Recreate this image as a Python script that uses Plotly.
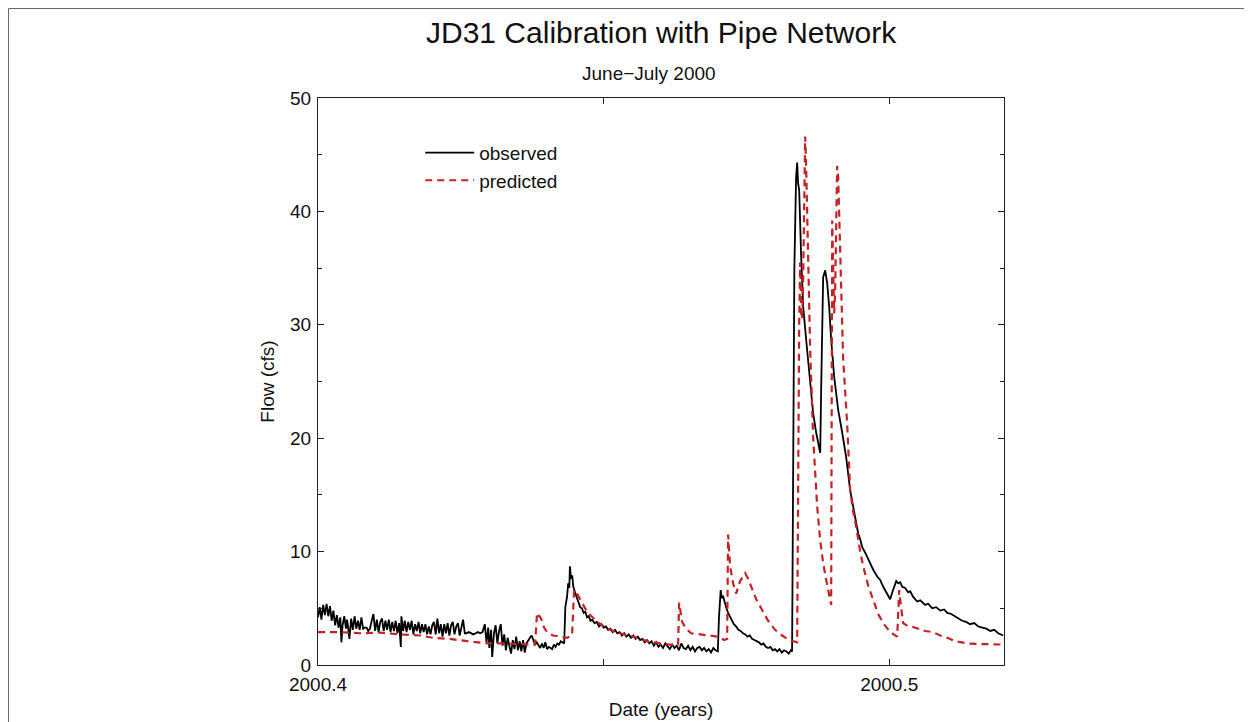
import plotly.graph_objects as go

# ---------------- data ----------------
obs_x = [
    2000.4000, 2000.4003, 2000.4006, 2000.4009, 2000.4012, 2000.4015, 2000.4018, 2000.4021, 2000.4024, 2000.4027,
    2000.4030, 2000.4033, 2000.4036, 2000.4039, 2000.4041, 2000.4043, 2000.4046, 2000.4049, 2000.4051, 2000.4055,
    2000.4058, 2000.4061, 2000.4064, 2000.4067, 2000.4070, 2000.4073, 2000.4076, 2000.4079, 2000.4082, 2000.4085,
    2000.4088, 2000.4091, 2000.4094, 2000.4097, 2000.4100, 2000.4103, 2000.4106, 2000.4109, 2000.4112, 2000.4115,
    2000.4118, 2000.4121, 2000.4124, 2000.4127, 2000.4130, 2000.4133, 2000.4136, 2000.4139, 2000.4142, 2000.4145,
    2000.4146, 2000.4149, 2000.4152, 2000.4155, 2000.4158, 2000.4161, 2000.4164, 2000.4167, 2000.4170, 2000.4173,
    2000.4176, 2000.4179, 2000.4182, 2000.4185, 2000.4188, 2000.4191, 2000.4194, 2000.4197, 2000.4200, 2000.4203,
    2000.4206, 2000.4209, 2000.4212, 2000.4215, 2000.4218, 2000.4221, 2000.4224, 2000.4227, 2000.4230, 2000.4233,
    2000.4236, 2000.4239, 2000.4242, 2000.4245, 2000.4248, 2000.4251, 2000.4254, 2000.4257, 2000.4260, 2000.4264,
    2000.4268, 2000.4272, 2000.4276, 2000.4280, 2000.4284, 2000.4288, 2000.4292, 2000.4295, 2000.4298, 2000.4300,
    2000.4303, 2000.4305, 2000.4308, 2000.4311, 2000.4314, 2000.4317, 2000.4320, 2000.4323, 2000.4326, 2000.4329,
    2000.4332, 2000.4335, 2000.4338, 2000.4341, 2000.4344, 2000.4347, 2000.4350, 2000.4353, 2000.4356, 2000.4359,
    2000.4362, 2000.4365, 2000.4368, 2000.4371, 2000.4374, 2000.4377, 2000.4380, 2000.4383, 2000.4386, 2000.4389,
    2000.4392, 2000.4395, 2000.4398, 2000.4401, 2000.4404, 2000.4407, 2000.4410, 2000.4413, 2000.4416, 2000.4419,
    2000.4422, 2000.4425, 2000.4428, 2000.4431,
    2000.4433, 2000.4436, 2000.4438, 2000.4440, 2000.4441, 2000.4443, 2000.4445, 2000.4447, 2000.4450, 2000.4453,
    2000.4456, 2000.4459, 2000.4462, 2000.4465, 2000.4468, 2000.4471, 2000.4474, 2000.4477, 2000.4480, 2000.4484,
    2000.4488, 2000.4492, 2000.4496, 2000.4500, 2000.4504, 2000.4508, 2000.4512, 2000.4516, 2000.4520, 2000.4524,
    2000.4528, 2000.4532, 2000.4536, 2000.4540, 2000.4544, 2000.4548, 2000.4552, 2000.4556, 2000.4560, 2000.4564,
    2000.4568, 2000.4572, 2000.4576, 2000.4580, 2000.4584, 2000.4588, 2000.4592, 2000.4596, 2000.4600, 2000.4604,
    2000.4608, 2000.4612, 2000.4616, 2000.4620, 2000.4624, 2000.4628, 2000.4632, 2000.4636, 2000.4640, 2000.4644,
    2000.4648, 2000.4652, 2000.4656, 2000.4660, 2000.4664, 2000.4668, 2000.4672, 2000.4676, 2000.4680, 2000.4684,
    2000.4688, 2000.4692, 2000.4696, 2000.4700,
    2000.4702, 2000.4705, 2000.4707, 2000.4709, 2000.4712, 2000.4715, 2000.4718, 2000.4721, 2000.4724, 2000.4728,
    2000.4732, 2000.4736, 2000.4740, 2000.4744, 2000.4748, 2000.4752, 2000.4756, 2000.4760, 2000.4764, 2000.4768,
    2000.4772, 2000.4776, 2000.4780, 2000.4784, 2000.4788, 2000.4792, 2000.4796, 2000.4800, 2000.4804, 2000.4808,
    2000.4812, 2000.4816, 2000.4820, 2000.4824, 2000.4828, 2000.4830,
    2000.48310, 2000.48340, 2000.48370, 2000.48389, 2000.48405, 2000.48424, 2000.48459, 2000.48494, 2000.48546,
    2000.48616, 2000.48669, 2000.48721, 2000.48792, 2000.48809, 2000.48844, 2000.48879, 2000.48914, 2000.48949,
    2000.48984, 2000.49037, 2000.49107, 2000.49177, 2000.49247, 2000.49317,
    2000.49370, 2000.49422, 2000.49457, 2000.49492, 2000.49527, 2000.49580, 2000.49632, 2000.49667, 2000.49720,
    2000.49790, 2000.49842, 2000.49895, 2000.49930, 2000.49965, 2000.50000, 2000.50017, 2000.50053, 2000.50088,
    2000.50123, 2000.50158, 2000.50193, 2000.50228, 2000.50280, 2000.50333, 2000.50368, 2000.50420, 2000.50490,
    2000.50543, 2000.50630, 2000.50683, 2000.50753, 2000.50823, 2000.50893, 2000.50963, 2000.51016, 2000.51086,
    2000.51156, 2000.51208, 2000.51278, 2000.51348, 2000.51418, 2000.51489, 2000.51559, 2000.51629, 2000.51699,
    2000.51769, 2000.51839, 2000.51909, 2000.51996,
]
obs_y = [
    4.2, 5.1, 4.0, 5.3, 4.4, 5.4, 4.3, 5.2, 3.9, 4.8,
    3.5, 4.4, 3.3, 4.2, 2.0, 3.5, 4.3, 3.2, 4.0, 2.3,
    4.1, 3.1, 4.3, 3.2, 3.9, 3.1, 4.2, 3.2, 3.3, 3.3,
    3.0, 3.2, 3.9, 4.5, 3.0, 4.0, 2.9, 3.8, 4.1, 3.0,
    3.9, 3.1, 4.0, 2.9, 3.8, 3.0, 3.9, 2.8, 3.7, 1.6,
    4.3, 3.0, 3.9, 2.9, 3.8, 3.1, 3.9, 2.7, 3.6, 3.0,
    3.8, 2.8, 3.6, 2.9, 3.6, 2.7, 3.4, 2.7, 3.5, 3.8,
    2.7, 4.1, 2.8, 3.6, 2.5, 3.6, 2.8, 3.7, 2.6, 3.5,
    3.8, 2.7, 3.4, 3.7, 2.6, 3.5, 4.0, 2.8, 2.8, 2.9,
    2.8, 2.7, 2.8, 2.9, 2.8, 2.9, 3.6, 2.0, 3.3, 1.5,
    3.1, 0.7, 2.8, 3.5, 1.9, 3.0, 3.6, 1.7, 2.7, 1.3,
    2.4, 1.6, 1.0, 2.2, 1.4, 2.5, 1.3, 2.1, 1.2, 2.2,
    1.1, 1.9, 2.2, 2.4, 2.6, 2.2, 1.8, 2.0, 1.7, 1.5,
    1.9, 1.5, 2.0, 1.4, 1.6, 1.5, 1.4, 1.8, 1.6, 1.9,
    1.8, 2.1, 2.0, 1.9,
    5.1, 6.0, 7.2, 6.8, 8.7, 7.6, 7.9, 6.9, 6.4, 5.9,
    5.6, 5.1, 5.0, 4.6, 4.7, 4.2, 4.3, 3.9, 4.0, 3.7,
    3.8, 3.4, 3.6, 3.3, 3.4, 3.1, 3.2, 2.9, 3.1, 2.8,
    2.9, 2.6, 2.8, 2.5, 2.7, 2.4, 2.6, 2.3, 2.5, 2.2,
    2.3, 2.0, 2.2, 1.9, 2.1, 1.7, 2.0, 1.6, 1.8, 1.5,
    1.9, 1.6, 1.4, 1.8, 1.5, 1.7, 1.3, 1.9, 1.5, 1.4,
    1.7, 1.3, 1.6, 1.2, 1.5, 1.6, 1.3, 1.5, 1.2, 1.4,
    1.1, 1.5, 1.3, 1.2,
    4.2, 6.6, 5.9, 6.1, 5.4, 5.0, 4.6, 4.3, 4.0, 3.6,
    3.4, 3.1, 3.0, 2.8, 2.7, 2.5, 2.6, 2.3, 2.2, 2.1,
    2.0, 1.8, 1.9, 1.6, 1.5, 1.6, 1.3, 1.4, 1.2, 1.4,
    1.1, 1.3, 1.2, 1.0, 1.3, 1.2,
    12.0, 35.0, 43.0, 44.3, 42.5, 41.9, 36.0, 31.6, 28.7,
    24.9, 22.2, 20.5, 18.7, 24.3, 34.2, 34.8, 33.7, 31.6,
    28.7, 25.4, 22.5, 20.5, 18.3, 15.4,
    14.0, 12.4, 11.6, 11.1, 10.4, 9.9, 9.3, 9.0, 8.4,
    7.8, 7.5, 6.9, 6.6, 6.2, 5.9, 5.8, 6.4, 7.0,
    7.4, 7.2, 7.3, 6.9, 6.8, 6.4, 6.5, 6.0, 5.6,
    5.7, 5.3, 5.4, 5.0, 5.1, 4.8, 4.9, 4.6, 4.5,
    4.3, 4.1, 3.9, 3.8, 3.6, 3.7, 3.4, 3.3, 3.2,
    3.0, 3.1, 2.8, 2.6,
]

pred_x = [
    2000.40000, 2000.40385, 2000.40736, 2000.41086, 2000.41436, 2000.41786, 2000.42014, 2000.42312, 2000.42609,
    2000.42960, 2000.43187, 2000.43538, 2000.43800, 2000.43835, 2000.43870, 2000.43905, 2000.43958, 2000.44010,
    2000.44116, 2000.44238, 2000.44361, 2000.44448, 2000.44483, 2000.44536, 2000.44588, 2000.44676, 2000.44764,
    2000.44939, 2000.45114, 2000.45289, 2000.45517, 2000.45762, 2000.45989, 2000.46235, 2000.46305, 2000.46322,
    2000.46375, 2000.46445, 2000.46532, 2000.46690, 2000.46830, 2000.47005, 2000.47110, 2000.47163, 2000.47180,
    2000.47215, 2000.47268, 2000.47320, 2000.47390, 2000.47478, 2000.47531, 2000.47583, 2000.47671, 2000.47776,
    2000.47881, 2000.48003, 2000.48126, 2000.48249, 2000.48354, 2000.48389, 2000.48424, 2000.48441, 2000.48459,
    2000.48476, 2000.48494, 2000.48529, 2000.48546, 2000.48581, 2000.48616, 2000.48669, 2000.48739, 2000.48792,
    2000.48844, 2000.48897, 2000.48949, 2000.48984, 2000.49002, 2000.49019, 2000.49037, 2000.49054, 2000.49089,
    2000.49107, 2000.49142, 2000.49194, 2000.49264, 2000.49317, 2000.49370, 2000.49422, 2000.49492, 2000.49545,
    2000.49632, 2000.49720, 2000.49807, 2000.49895, 2000.50017, 2000.50140, 2000.50175, 2000.50210, 2000.50245,
    2000.50333, 2000.50420, 2000.50630, 2000.50771, 2000.50893, 2000.51016, 2000.51156, 2000.51366, 2000.51594,
    2000.51996,
]
pred_y = [
    2.9, 2.9, 2.8, 2.85, 2.7, 2.6, 2.4, 2.3, 2.1,
    1.9, 1.9, 1.85, 1.8, 4.6, 4.3, 4.1, 3.3, 2.9,
    2.6, 2.5, 2.4, 2.6, 6.6, 6.3, 5.8, 5.0, 4.4,
    3.6, 3.1, 2.8, 2.5, 2.1, 1.9, 1.75, 1.8, 5.5,
    3.8, 3.2, 2.8, 2.7, 2.6, 2.5, 2.2, 2.3, 11.5,
    8.7, 7.2, 6.3, 7.4, 8.1, 7.6, 6.9, 5.8, 4.85,
    3.9, 3.1, 2.6, 2.2, 2.0, 2.0, 30.0, 35.5, 31.0,
    30.5, 34.0, 46.6, 44.0, 36.0, 28.0, 20.0, 14.0, 11.0,
    9.0, 7.5, 6.3, 5.3, 39.2, 35.0, 31.0, 33.0, 44.0,
    43.0, 36.0, 27.0, 21.3, 15.4, 13.5, 12.2, 10.0, 8.7,
    7.0, 5.7, 4.5, 3.7, 2.9, 2.5, 6.6, 5.0, 3.7,
    3.4, 3.35, 3.0, 2.9, 2.6, 2.4, 2.1, 1.9, 1.85,
    1.8,
]

x_tickvals = [2000.4, 2000.45, 2000.5]
x_ticktext = ["2000.4", "", "2000.5"]
y_tickvals = [0, 10, 20, 30, 40, 50]

title_text = "JD31 Calibration with Pipe Network"
subtitle_text = "June\u2212July 2000"

# ---------------- figure ----------------
FONT = "Liberation Sans, Arial, sans-serif"
INK = "#111111"

fig = go.Figure()
fig.add_trace(go.Scatter(
    x=obs_x, y=obs_y, mode="lines", name="observed",
    line=dict(color="black", width=1.8),
))
fig.add_trace(go.Scatter(
    x=pred_x, y=pred_y, mode="lines", name="predicted",
    line=dict(color="#c42326", width=2.2, dash="7px,5px"),
))

axis_common = dict(
    showline=True, linecolor="#222222", linewidth=1, mirror="ticks",
    ticks="inside", ticklen=6, tickwidth=1, tickcolor="#222222",
    showgrid=False, zeroline=False,
    tickfont=dict(family=FONT, size=19, color=INK),
)

fig.update_xaxes(
    range=[2000.4, 2000.5201],
    tickmode="array", tickvals=x_tickvals, ticktext=x_ticktext,
    ticklabelstandoff=2,
    title=dict(text="Date (years)", font=dict(family=FONT, size=19, color=INK), standoff=8),
    **axis_common,
)
fig.update_yaxes(
    range=[0, 50],
    tickmode="array", tickvals=y_tickvals,
    ticklabelstandoff=2,
    minor=dict(dtick=5, ticks="inside", ticklen=4, tickcolor="#222222", showgrid=False),
    title=dict(text="Flow (cfs)", font=dict(family=FONT, size=19, color=INK), standoff=10),
    **axis_common,
)

fig.update_layout(
    width=1252, height=722,
    margin=dict(l=310, r=256, t=90, b=65, autoexpand=False),
    paper_bgcolor="white", plot_bgcolor="white",
    showlegend=True,
    legend=dict(
        x=0.149, y=0.937, xanchor="left", yanchor="top",
        bgcolor="rgba(0,0,0,0)", borderwidth=0,
        font=dict(family=FONT, size=19, color=INK),
        itemwidth=49, tracegroupgap=0,
    ),
    annotations=[
        dict(text=title_text, xref="paper", yref="paper", x=0.5, y=1.116,
             xanchor="center", yanchor="middle", showarrow=False,
             font=dict(family=FONT, size=30, color=INK)),
        dict(text=subtitle_text, xref="paper", yref="paper", x=0.483, y=1.044,
             xanchor="center", yanchor="middle", showarrow=False,
             font=dict(family=FONT, size=19, color=INK)),
    ],
    shapes=[
        dict(type="rect", xref="paper", yref="paper",
             x0=-0.4512, x1=1.3557, y0=-0.2, y1=1.1578,
             line=dict(color="#666666", width=1), fillcolor="rgba(0,0,0,0)", layer="below"),
    ],
)

fig.write_html("out.html")
